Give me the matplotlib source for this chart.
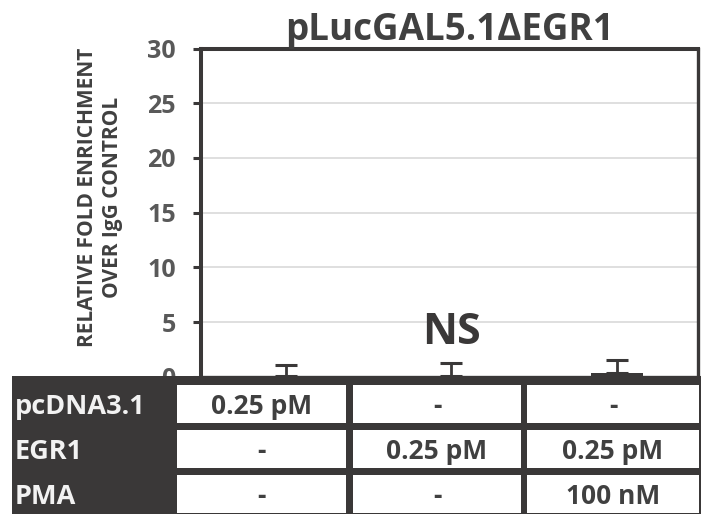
import matplotlib
matplotlib.use("Agg")
import matplotlib.pyplot as plt
from matplotlib.patches import Rectangle

plt.rcParams['font.family'] = ['Open Sans', 'DejaVu Sans']
plt.rcParams['font.weight'] = 'bold'

# ---- data ----
categories = ["pcDNA3.1", "EGR1", "EGR1+PMA"]
values = [0.02, 0.02, 0.34]
errors_up = [1.05, 1.23, 1.19]
yticks = [0, 5, 10, 15, 20, 25, 30]
title = "pLucGAL5.1\u0394EGR1"
ylabel = "RELATIVE FOLD ENRICHMENT\nOVER IgG CONTROL"
annotation = "NS"
row_labels = ["pcDNA3.1", "EGR1", "PMA"]
cell_text = [["0.25 pM", "-", "-"],
             ["-", "0.25 pM", "0.25 pM"],
             ["-", "-", "100 nM"]]

DARK = "#3a3838"
TXT = "#404040"
TICK = "#595959"

W, H = 703, 514
fig = plt.figure(figsize=(W / 100, H / 100), dpi=100)
fig.patch.set_facecolor("white")

ax = fig.add_axes([200.7 / W, 1 - 376.7 / H, (698 - 200.7) / W, (376.7 - 48.5) / H])
x = list(range(len(categories)))
ax.bar(x, values, width=0.314, color=DARK, zorder=3)
ax.errorbar(x, values, yerr=[[0] * len(x), errors_up], fmt="none",
            ecolor=DARK, elinewidth=2.0, capsize=8, capthick=2.2, zorder=4)
ax.set_xlim(-0.515, 2.49)
ax.set_ylim(0, 30)
ax.set_yticks(yticks)
ax.set_xticks([])
ax.yaxis.grid(True, color="#d9d9d9", linewidth=1.2, zorder=0)
ax.set_axisbelow(True)
for s in ["left", "top"]:
    ax.spines[s].set_linewidth(2.9)
    ax.spines[s].set_color(DARK)
for s in ["right", "bottom"]:
    ax.spines[s].set_linewidth(2.4)
    ax.spines[s].set_color(DARK)
ax.tick_params(axis="y", direction="out", length=6, width=2.2, color=DARK,
               pad=12, labelsize=18, labelcolor=TICK)
for lab in ax.get_yticklabels():
    lab.set_fontweight("bold")

ax.set_title(title, fontsize=26.5, fontweight="bold", color=TXT, pad=5)
ax.text(1, 4.04, annotation, ha="center", va="center", fontsize=31,
        fontweight="bold", color=DARK, zorder=5)

fig.text(100 / W, 1 - 197 / H, ylabel, rotation=90, ha="center", va="center",
         multialignment="center", fontsize=15, fontweight="bold", color=TXT,
         linespacing=1.3)

# ---- table overlay in pixel coordinates ----
ov = fig.add_axes([0, 0, 1, 1], zorder=10)
ov.set_xlim(0, W)
ov.set_ylim(H, 0)
ov.axis("off")
ov.patch.set_alpha(0)
ov.add_patch(Rectangle((12, 376), 701 - 12, H - 376, facecolor=DARK, edgecolor="none"))
cols = [(177, 346), (353, 521), (527, 699)]
rows = [(385, 423), (430, 468), (475, 513)]
for r, (y0, y1) in enumerate(rows):
    yc = (y0 + y1) / 2
    ov.text(15, yc + 10, row_labels[r], ha="left", va="baseline", fontsize=19.5,
            fontweight="bold", color="#f2f2f2")
    for c, (x0, x1) in enumerate(cols):
        ov.add_patch(Rectangle((x0, y0), x1 - x0, y1 - y0, facecolor="white",
                               edgecolor="none"))
        ov.text((x0 + x1) / 2, yc + 10, cell_text[r][c], ha="center",
                va="baseline", fontsize=19, fontweight="bold", color=TXT)

fig.savefig("out.png", dpi=100)
